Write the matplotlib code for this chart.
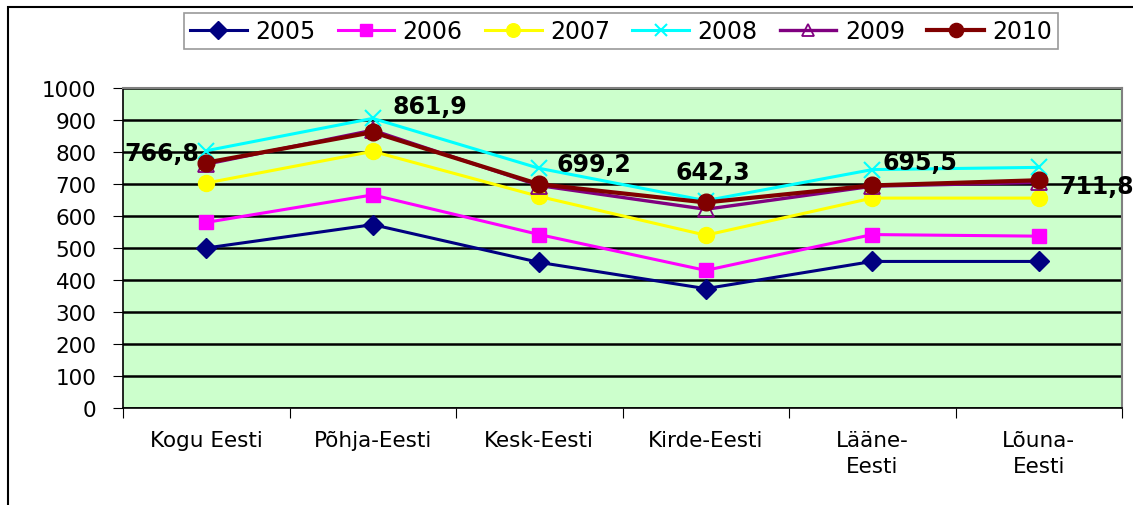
import numpy as np
import matplotlib
matplotlib.use("Agg")
import matplotlib.pyplot as plt
from matplotlib.patches import Rectangle

# piirkonnad ja aastad
regions = ["Kogu Eesti", "Põhja-Eesti", "Kesk-Eesti", "Kirde-Eesti", "Lääne-\nEesti", "Lõuna-\nEesti"]
years = ["2005", "2006", "2007", "2008", "2009", "2010"]

v2005 = [500, 573, 455, 373, 458, 458]
v2006 = [580, 666, 542, 430, 542, 537]
v2007 = [703, 802, 661, 540, 656, 656]
v2008 = [804, 905, 749, 648, 745, 752]
v2009 = [762, 868, 695, 621, 693, 705]
v2010 = [766.8, 861.9, 699.2, 642.3, 695.5, 711.8]

label_text = ["766,8", "861,9", "699,2", "642,3", "695,5", "711,8"]

W, H = 1133, 506
fig = plt.figure(figsize=(W / 100, H / 100), dpi=100)
plt.rcParams['font.family'] = ['DejaVu Sans']

# raam ümber joonise
fig.patches.append(Rectangle((8 / W, -0.1), 1.2, 1.1 - 8 / H, transform=fig.transFigure,
                             fill=False, edgecolor="black", linewidth=1.5))

ax = fig.add_axes([123 / W, 1 - 409 / H, (1122 - 123) / W, 320 / H])
ax.set_facecolor("#CCFFCC")
x = np.arange(len(regions))

styles = [
    (v2005, "#000080", dict(marker="D", ms=10.5, mfc="#000080", mec="#000080"), 2.2),
    (v2006, "#FF00FF", dict(marker="s", ms=10.5, mfc="#FF00FF", mec="#FF00FF"), 2.2),
    (v2007, "#FFFF00", dict(marker="o", ms=11.5, mfc="#FFFF00", mec="#FFFF00"), 2.2),
    (v2008, "#00FFFF", dict(marker="x", ms=11, mew=1.5, mec="#00FFFF"), 2.2),
    (v2009, "#800080", dict(marker="^", ms=11, mfc="none", mec="#800080", mew=1.3), 2.4),
    (v2010, "#800000", dict(marker="o", ms=12, mfc="#800000", mec="#800000"), 3.0),
]
for (vals, col, mk, lw), yr in zip(styles, years):
    ax.plot(x, vals, color=col, lw=lw, label=yr, zorder=3, **mk)

# andmesildid 2010
offsets = [(-7, 10, "right"), (20, 26, "left"), (17, 20, "left"),
           (7, 30, "center"), (10, 23, "left"), (21, -6, "left")]
for xi, v, t, (dx, dy, ha) in zip(x, v2010, label_text, offsets):
    ax.annotate(t, (xi, v), xytext=(dx, dy), textcoords="offset pixels",
                ha=ha, va="center", fontsize=17, fontweight="bold", zorder=5,
                annotation_clip=False)

ax.set_xlim(-0.5, 5.5)
ax.set_ylim(0, 1000)
ax.set_yticks(np.arange(0, 1001, 100))
ax.yaxis.grid(True, color="black", lw=1.8, zorder=1)
ax.set_axisbelow(True)
ax.tick_params(axis="y", labelsize=15.5, length=7, pad=12, direction="out")

ax.set_xticks(np.arange(-0.5, 6, 1))
ax.set_xticklabels([])
ax.set_xticks(x, minor=True)
ax.set_xticklabels(regions, minor=True, fontsize=15.5, linespacing=1.35)
ax.tick_params(axis="x", which="major", length=7, direction="out")
ax.tick_params(axis="x", which="minor", length=0, pad=16)

for s in ["top", "right"]:
    ax.spines[s].set_color("#808080")
    ax.spines[s].set_linewidth(1.5)
for s in ["left", "bottom"]:
    ax.spines[s].set_color("black")
    ax.spines[s].set_linewidth(1.2)

leg = fig.legend(loc="center", bbox_to_anchor=(621 / W, 1 - 32 / H), ncol=6,
                 fontsize=17, frameon=True, fancybox=False, edgecolor="#808080",
                 handlelength=2.4, handletextpad=0.35, columnspacing=0.95,
                 borderpad=0.25, borderaxespad=0, markerscale=0.85)
leg.get_frame().set_linewidth(1.2)

fig.savefig("out.png", dpi=100)
